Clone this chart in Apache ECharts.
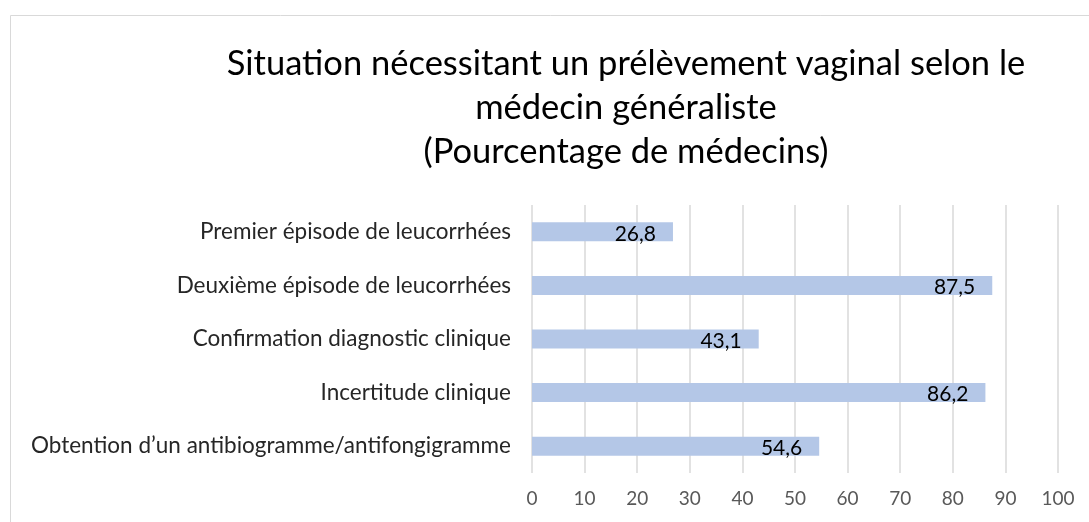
<!DOCTYPE html>
<html><head><meta charset="utf-8">
<script src="https://cdn.jsdelivr.net/npm/echarts@6/dist/echarts.min.js"></script>
<style>html,body{margin:0;padding:0;background:#fff}#c{width:1089px;height:522px}</style>
</head><body><div id="c"></div>
<script>
var categories = ["Premier épisode de leucorrhées","Deuxième épisode de leucorrhées","Confirmation diagnostic clinique","Incertitude clinique","Obtention d\u2019un antibiogramme/antifongigramme"];
var values = [26.8, 87.5, 43.1, 86.2, 54.6];
var titleLines = ["Situation nécessitant un prélèvement vaginal selon le","médecin généraliste","(Pourcentage de médecins)"];
var chart = echarts.init(document.getElementById('c'));
var F = "Lato, 'Open Sans', sans-serif";
chart.setOption({
  animation:false,
  textStyle:{fontFamily:F},
  graphic:[{type:'rect',shape:{x:10.5,y:15.5,width:1100,height:600},style:{fill:'none',stroke:'#d9d9d9',lineWidth:1},silent:true}],
  title:{text:titleLines.join('\n'),left:621,top:37,textAlign:'center',
    textStyle:{fontFamily:F,fontSize:34.5,fontWeight:'normal',color:'#000',lineHeight:44}},
  grid:{left:532,right:31,top:205,bottom:49,containLabel:false},
  xAxis:{type:'value',min:0,max:100,interval:10,
    axisLine:{show:false},axisTick:{show:false},
    splitLine:{lineStyle:{color:'#d9d9d9',width:1.5}},
    axisLabel:{color:'#595959',fontSize:19,margin:16,fontFamily:F}},
  yAxis:{type:'category',data:categories,inverse:true,
    axisLine:{show:false},axisTick:{show:false},
    axisLabel:{color:'#262626',fontSize:22.5,margin:21,fontFamily:F}},
  series:[{type:'bar',data:values,barWidth:19,itemStyle:{color:'#b4c7e7'},
    label:{show:true,position:'insideRight',color:'#000',fontSize:21,fontFamily:F,offset:[-12,2],
      formatter:function(p){return String(p.value).replace('.',',');}}}]
});
</script></body></html>
